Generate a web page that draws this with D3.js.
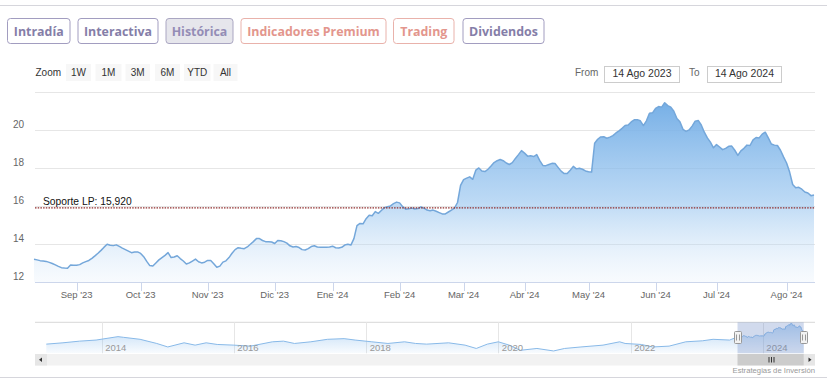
<!DOCTYPE html>
<html><head><meta charset="utf-8">
<script src="https://cdn.jsdelivr.net/npm/d3@7"></script>
<style>
html,body{margin:0;padding:0;background:#fff;}
svg{display:block;}
</style></head><body>
<svg id="c" width="827" height="383"></svg>
<script>
// ---------------- DATA ----------------
const startDate = "2023-08-14";
const endDate = "2024-08-14";
const holidays = ["2023-12-25","2023-12-26","2024-01-01","2024-03-29","2024-04-01","2024-05-01"];
const prices = [
13.21,13.18,13.14,13.12,13.10,13.05,12.99,12.92,12.84,12.77,
12.75,12.74,12.91,12.90,12.90,12.93,13.02,13.09,13.15,13.26,
13.39,13.53,13.68,13.85,14.00,13.95,13.93,13.97,13.89,13.80,
13.72,13.64,13.56,13.59,13.60,13.52,13.35,13.10,12.88,12.86,
13.02,13.18,13.30,13.42,13.56,13.30,13.33,13.40,13.25,13.12,
12.96,13.02,13.12,13.22,13.08,13.02,13.06,13.15,13.15,12.98,
12.79,12.85,13.06,13.13,13.30,13.53,13.72,13.82,13.79,13.77,
13.86,14.00,14.14,14.30,14.30,14.20,14.14,14.14,14.12,14.04,
14.20,14.19,14.14,14.06,13.92,13.86,13.88,13.83,13.72,13.70,
13.77,13.88,13.92,13.86,13.84,13.84,13.84,13.86,13.90,13.82,
13.80,13.84,13.96,14.00,13.96,14.30,14.98,15.10,15.08,15.35,
15.53,15.50,15.72,15.63,15.78,15.93,15.98,16.02,16.14,16.22,
16.18,15.98,15.85,15.87,15.91,15.86,15.88,15.97,15.90,15.80,
15.77,15.80,15.74,15.67,15.60,15.60,15.70,15.80,15.90,16.20,
17.10,17.40,17.48,17.55,17.42,17.90,18.02,17.86,17.83,17.95,
18.12,18.30,18.40,18.46,18.40,18.28,18.20,18.30,18.52,18.72,
18.93,18.80,18.64,18.66,18.62,18.72,18.40,18.15,18.14,18.20,
18.26,18.25,18.05,17.85,17.72,17.72,17.90,18.10,17.97,18.00,
17.95,17.86,17.82,17.80,19.32,19.53,19.65,19.66,19.58,19.64,
19.72,19.86,19.97,20.10,20.25,20.28,20.44,20.55,20.56,20.50,
20.25,20.50,20.90,20.92,21.15,21.25,21.22,21.45,21.30,21.22,
21.00,20.62,20.45,20.05,19.94,20.02,20.22,20.48,20.52,20.28,
19.90,19.60,19.38,19.08,19.25,19.12,18.98,19.05,19.16,19.17,
18.95,18.68,18.92,19.05,19.22,19.20,19.50,19.62,19.60,19.80,
19.90,19.60,19.28,19.22,19.20,18.95,18.60,18.28,17.80,17.15,
16.98,17.00,16.90,16.75,16.70,16.56,16.60
];
const monthTickLabels = ["Sep '23","Oct '23","Nov '23","Dic '23","Ene '24","Feb '24","Mar '24","Abr '24","May '24","Jun '24","Jul '24","Ago '24"];
const yGridValues = [12,14,16,18,20,22];
const yLabelValues = [12,14,16,18,20];
const supportLevel = 15.92;
const supportLabel = "Soporte LP: 15,920";

// navigator long history (before the main range)
const navHistDates = ["2013-03","2013-06","2013-09","2013-12","2014-04","2014-05","2014-08","2014-11",
"2015-01","2015-04","2015-06","2015-08","2015-10","2016-01","2016-04","2016-08","2016-10","2016-12",
"2017-03","2017-06","2017-09","2017-11","2018-02","2018-05","2018-08","2018-10","2018-12",
"2019-04","2019-07","2019-09","2019-11","2020-01","2020-03","2020-05","2020-08","2020-11",
"2021-01","2021-04","2021-08","2021-11","2021-12","2022-03","2022-05","2022-08","2022-11",
"2023-02","2023-04","2023-07"];
const navHistValues = [8.9,9.7,10.7,11.35,13.4,13.0,11.8,9.3,
7.2,9.7,8.3,9.7,8.7,8.3,7.7,10.3,10.7,9.3,
10.3,11.8,12.2,11.35,10.3,9.3,10.3,9.3,8.9,
9.7,8.3,6.3,8.9,10.3,8.3,5.2,6.3,4.8,
6.3,7.2,8.3,10.3,9.3,8.7,7.2,7.7,10.3,
10.9,11.8,11.35];
const navYearTicks = [2014,2016,2018,2020,2022,2024];

const tabLabels = ["Intradía","Interactiva","Histórica","Indicadores Premium","Trading","Dividendos"];
const tabKinds = ["normal","normal","active","premium","premium","normal"];
const zoomLabels = ["1W","1M","3M","6M","YTD","All"];
const fromText = "14 Ago 2023";
const toText = "14 Ago 2024";
const creditText = "Estrategias de Inversión";

// ---------------- LAYOUT ----------------
const svg = d3.select("#c");
const W = 827;
const plot = {left: 34, right: 814, top: 92.3, bottom: 282.3};
const nav = {top: 322.3, bottom: 353.3, left: 35, right: 815};
const chartFont = "'Liberation Sans', Arial, sans-serif";
const tabBoxes = [[7,70.5],[77.5,158.5],[165.5,233.5],[240.5,386.5],[393,454.5],[462.5,544.5]];
const zoomBoxes = [[66,91],[95.5,121.5],[125.5,150],[155,180],[184,210.5],[213.5,237.5]];

const parse = d3.utcParse("%Y-%m-%d");
const fmt = d3.utcFormat("%Y-%m-%d");
const hol = new Set(holidays);
let dates = d3.utcDays(parse(startDate), d3.utcDay.offset(parse(endDate), 1))
  .filter(d => d.getUTCDay() !== 0 && d.getUTCDay() !== 6 && !hol.has(fmt(d)));
const n = Math.min(dates.length, prices.length);
dates = dates.slice(0, n);
const series = dates.map((d, i) => ({date: d, value: prices[i]}));

// top line
svg.append("line").attr("x1",0).attr("x2",W).attr("y1",5.5).attr("y2",5.5)
  .attr("stroke","#d6d6dc").attr("stroke-width",1);

// tabs
const tabStyle = {
  normal: {stroke:"#a29dc0", fill:"#fff", text:"#857ea8"},
  active: {stroke:"#aaa6c2", fill:"#e6e6ec", text:"#948db6"},
  premium:{stroke:"#e9b2ab", fill:"#fff", text:"#e3968d"}
};
tabLabels.forEach((t, i) => {
  const [x0, x1] = tabBoxes[i];
  const s = tabStyle[tabKinds[i]];
  const g = svg.append("g");
  g.append("rect").attr("x", x0+0.5).attr("y", 18.5).attr("width", x1-x0-1).attr("height", 25)
    .attr("rx", 3).attr("fill", s.fill).attr("stroke", s.stroke).attr("stroke-width", 1);
  g.append("text").attr("x", (x0+x1)/2).attr("y", 35.5).attr("text-anchor","middle")
    .attr("font-family","'Open Sans', sans-serif").attr("font-weight",700).attr("font-size","12.4px")
    .attr("fill", s.text).text(t);
});

// zoom row
svg.append("text").attr("x",35.5).attr("y",76).attr("font-family",chartFont).attr("font-size","10px")
  .attr("fill","#333").text("Zoom");
zoomLabels.forEach((t, i) => {
  const [x0, x1] = zoomBoxes[i];
  svg.append("rect").attr("x",x0).attr("y",64).attr("width",x1-x0).attr("height",17).attr("fill","#f7f7f7");
  svg.append("text").attr("x",(x0+x1)/2).attr("y",76).attr("text-anchor","middle")
    .attr("font-family",chartFont).attr("font-size","10px").attr("fill","#333").text(t);
});

// from / to
svg.append("text").attr("x",575).attr("y",76).attr("font-family",chartFont).attr("font-size","10px").attr("fill","#666").text("From");
svg.append("rect").attr("x",604.5).attr("y",66.5).attr("width",75).attr("height",16).attr("fill","#fff").attr("stroke","#cccccc");
svg.append("text").attr("x",642).attr("y",76.5).attr("text-anchor","middle").attr("font-family",chartFont).attr("font-size","10.5px").attr("fill","#333").text(fromText);
svg.append("text").attr("x",689).attr("y",76).attr("font-family",chartFont).attr("font-size","10px").attr("fill","#666").text("To");
svg.append("rect").attr("x",707.5).attr("y",66.5).attr("width",74).attr("height",16).attr("fill","#fff").attr("stroke","#cccccc");
svg.append("text").attr("x",744.5).attr("y",76.5).attr("text-anchor","middle").attr("font-family",chartFont).attr("font-size","10.5px").attr("fill","#333").text(toText);

// scales
const x = d3.scalePoint().domain(dates.map(d => +d)).range([plot.left, plot.right]);
const y = d3.scaleLinear().domain([12, 22]).range([plot.bottom, plot.top]);

// grid
svg.append("g").selectAll("line").data(yGridValues).join("line")
  .attr("x1", plot.left+1).attr("x2", plot.right+1)
  .attr("y1", d => Math.round(y(d))+0.5).attr("y2", d => Math.round(y(d))+0.5)
  .attr("stroke","#e6e6e6").attr("stroke-width",1);

// gradient
const defs = svg.append("defs");
const grad = defs.append("linearGradient").attr("id","areaGrad").attr("gradientUnits","userSpaceOnUse")
  .attr("x1",0).attr("y1",y(21.5)).attr("x2",0).attr("y2",plot.bottom);
grad.append("stop").attr("offset",0).attr("stop-color","#76afe6").attr("stop-opacity",1);
grad.append("stop").attr("offset",0.55).attr("stop-color","#8fc0ee").attr("stop-opacity",0.6);
grad.append("stop").attr("offset",1).attr("stop-color","#cfe3f7").attr("stop-opacity",0.15);

const area = d3.area().x(d => x(+d.date)).y0(plot.bottom).y1(d => y(d.value));
const line = d3.line().x(d => x(+d.date)).y(d => y(d.value));
svg.append("path").datum(series).attr("d", area).attr("fill","url(#areaGrad)");
svg.append("path").datum(series).attr("d", line).attr("fill","none")
  .attr("stroke","#74a7da").attr("stroke-width",1.5).attr("stroke-linejoin","round");

// support line
svg.append("line").attr("x1",plot.left+1).attr("x2",plot.right+1)
  .attr("y1",y(supportLevel)).attr("y2",y(supportLevel))
  .attr("stroke","#8e2b2b").attr("stroke-width",1.2).attr("stroke-dasharray","1.5,1.2");
svg.append("text").attr("x",43).attr("y",y(supportLevel)-3).attr("font-family",chartFont)
  .attr("font-size","10.3px").attr("fill","#111").text(supportLabel);

// x axis
svg.append("line").attr("x1",plot.left+1).attr("x2",plot.right+1).attr("y1",282.5).attr("y2",282.5)
  .attr("stroke","#ccd6eb");
const tickDates = dates.filter((d, i) => i > 0 && d.getUTCMonth() !== dates[i-1].getUTCMonth());
const ticks = tickDates.map((d, i) => ({date: d, label: monthTickLabels[i]})).filter(t => t.label);
const xg = svg.append("g");
xg.selectAll("line").data(ticks).join("line")
  .attr("x1", d => Math.round(x(+d.date))+0.5).attr("x2", d => Math.round(x(+d.date))+0.5)
  .attr("y1",282.5).attr("y2",291).attr("stroke","#ccd6eb");
xg.selectAll("text").data(ticks).join("text")
  .attr("x", d => x(+d.date)).attr("y",297.5).attr("text-anchor","middle")
  .attr("font-family",chartFont).attr("font-size","9.5px").attr("fill","#666").text(d => d.label);

// y labels
svg.append("g").selectAll("text").data(yLabelValues).join("text")
  .attr("x",24).attr("y", d => y(d)-2).attr("text-anchor","end")
  .attr("font-family",chartFont).attr("font-size","10px").attr("fill","#666").text(d => d);

// ---------------- NAVIGATOR ----------------
const navData = navHistDates.map((d, i) => ({date: d3.utcParse("%Y-%m")(d), value: navHistValues[i]}))
  .concat(series);
const nx = d3.scaleUtc().domain([Date.UTC(2014,0,1), Date.UTC(2022,0,1)]).range([101.7, 630.7]);
const ny = d3.scaleLinear().domain([3.4, 22]).range([nav.bottom, nav.top]);

svg.append("line").attr("x1",nav.left).attr("x2",nav.right).attr("y1",nav.top).attr("y2",nav.top)
  .attr("stroke","#d8d8d8");
const yearDates = navYearTicks.map(yr => new Date(Date.UTC(yr,0,1)));
svg.append("g").selectAll("line").data(yearDates).join("line")
  .attr("x1", d => Math.round(nx(d))+0.5).attr("x2", d => Math.round(nx(d))+0.5)
  .attr("y1", nav.top).attr("y2", nav.bottom).attr("stroke","#e6e6e6");

defs.append("clipPath").attr("id","navClip").append("rect")
  .attr("x",nav.left).attr("y",nav.top).attr("width",nav.right-nav.left).attr("height",nav.bottom-nav.top);
const ngrad = defs.append("linearGradient").attr("id","navGrad").attr("gradientUnits","userSpaceOnUse")
  .attr("x1",0).attr("y1",nav.top).attr("x2",0).attr("y2",nav.bottom);
ngrad.append("stop").attr("offset",0).attr("stop-color","#7cb5ec").attr("stop-opacity",0.55);
ngrad.append("stop").attr("offset",1).attr("stop-color","#7cb5ec").attr("stop-opacity",0.05);
const nArea = d3.area().x(d => nx(d.date)).y0(nav.bottom).y1(d => ny(d.value));
const nLine = d3.line().x(d => nx(d.date)).y(d => ny(d.value));
const ng = svg.append("g").attr("clip-path","url(#navClip)");
ng.append("path").datum(navData).attr("d", nArea).attr("fill","url(#navGrad)");
ng.append("path").datum(navData).attr("d", nLine).attr("fill","none").attr("stroke","#88b9e8").attr("stroke-width",1);

svg.append("g").selectAll("text").data(yearDates).join("text")
  .attr("x", d => nx(d)+3.5).attr("y", 350.5)
  .attr("font-family",chartFont).attr("font-size","9.5px").attr("fill","#999").text(d => d.getUTCFullYear());

// selection mask
const selL = nx(dates[0]), selR = nx(dates[dates.length-1]);
svg.append("rect").attr("x",selL).attr("y",nav.top).attr("width",selR-selL).attr("height",nav.bottom-nav.top)
  .attr("fill","rgba(102,133,194,0.3)");
[selL, selR].forEach(hx => {
  const g = svg.append("g");
  g.append("rect").attr("x",Math.round(hx)-3.5).attr("y",331.5).attr("width",7).attr("height",12)
    .attr("rx",1).attr("fill","#f2f2f2").attr("stroke","#999");
  g.append("line").attr("x1",Math.round(hx)-1.5).attr("x2",Math.round(hx)-1.5).attr("y1",334.5).attr("y2",340.5).attr("stroke","#999");
  g.append("line").attr("x1",Math.round(hx)+1.5).attr("x2",Math.round(hx)+1.5).attr("y1",334.5).attr("y2",340.5).attr("stroke","#999");
});

// scrollbar
svg.append("rect").attr("x",nav.left).attr("y",354).attr("width",nav.right-nav.left).attr("height",11.5).attr("fill","#f2f2f2");
svg.append("rect").attr("x",nav.left).attr("y",354).attr("width",12).attr("height",11.5).attr("fill","#e6e6e6");
svg.append("rect").attr("x",nav.right-11).attr("y",354).attr("width",11).attr("height",11.5).attr("fill","#e6e6e6");
svg.append("path").attr("d",`M${nav.left+4},359.75 L${nav.left+7},357.5 L${nav.left+7},362 Z`).attr("fill","#333");
svg.append("path").attr("d",`M${nav.right-3.5},359.75 L${nav.right-6.5},357.5 L${nav.right-6.5},362 Z`).attr("fill","#333");
svg.append("rect").attr("x",selL).attr("y",354).attr("width",selR-selL).attr("height",11.5).attr("fill","#cccccc");
const gx = Math.round((selL+selR)/2);
[-2.5,0,2.5].forEach(o => svg.append("line").attr("x1",gx+o+0.5).attr("x2",gx+o+0.5).attr("y1",357).attr("y2",362.5).attr("stroke","#333").attr("stroke-width",1));

// credit
svg.append("text").attr("x",815).attr("y",373).attr("text-anchor","end")
  .attr("font-family",chartFont).attr("font-size","7.7px").attr("fill","#999").text(creditText);

// bottom line
svg.append("line").attr("x1",0).attr("x2",W).attr("y1",377.5).attr("y2",377.5).attr("stroke","#d6d6dc");
</script>
</body></html>
